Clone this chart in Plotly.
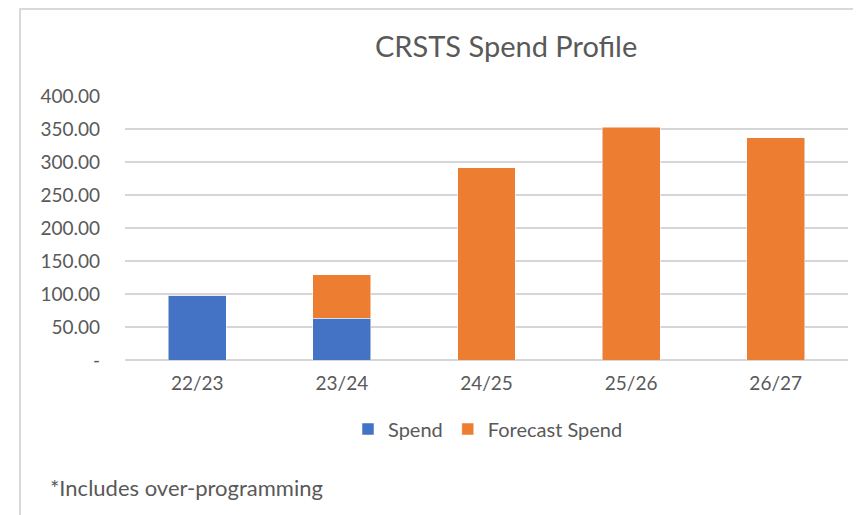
import plotly.graph_objects as go

categories = ["22/23", "23/24", "24/25", "25/26", "26/27"]
spend = [98, 63.5, 0, 0, 0]
forecast_spend = [0, 65.5, 291, 353, 337]
y_tickvals = [0, 50, 100, 150, 200, 250, 300, 350, 400]
y_ticktext = ["-", "50.00", "100.00", "150.00", "200.00", "250.00", "300.00", "350.00", "400.00"]

FONT = "Lato"
TXT = "#595959"

fig = go.Figure()
fig.add_trace(go.Bar(x=categories, y=spend, name="Spend",
                     marker=dict(color="#4472C4", line=dict(color="white", width=0.5))))
fig.add_trace(go.Bar(x=categories, y=forecast_spend, name="Forecast Spend",
                     marker=dict(color="#ED7D31", line=dict(color="white", width=0.5))))

W, H = 861, 515
OFF = 8  # page body offset
# desired on-screen plot area: x 125..848, y 96..360
L = 125 - OFF
R = W - (848 - OFF)
T = 96 - OFF
B = H - (360 - OFF)
pw, ph = W - L - R, H - T - B

def px(x):
    return (x - OFF - L) / pw

def py(y):
    return (H - B - (y - OFF)) / ph

fig.update_layout(
    width=W, height=H,
    margin=dict(l=L, r=R, t=T, b=B),
    barmode="stack", bargap=0.6,
    plot_bgcolor="white", paper_bgcolor="white",
    font=dict(family=FONT, color=TXT, size=19),
    showlegend=True,
    legend=dict(orientation="h", x=px(488), y=py(429), xanchor="center", yanchor="middle",
                font=dict(size=20, color=TXT), traceorder="normal", itemwidth=30),
    xaxis=dict(showgrid=False, showline=False, ticks="", tickfont=dict(size=19, color=TXT),
               ticklabelstandoff=10),
    yaxis=dict(range=[0, 400], tickvals=y_tickvals, ticktext=y_ticktext,
               showgrid=True, gridcolor="#D6D6D6", gridwidth=1.5,
               zeroline=True, zerolinecolor="#D6D6D6", zerolinewidth=1.5,
               showline=False, ticks="", tickfont=dict(size=19, color=TXT),
               ticklabelstandoff=24),
    annotations=[
        dict(text="CRSTS Spend Profile", x=px(506), y=py(46), xref="paper", yref="paper",
             showarrow=False, xanchor="center", yanchor="middle",
             font=dict(size=29, color=TXT, family=FONT)),
        dict(text="*Includes over-programming", x=px(48), y=py(487), xref="paper", yref="paper",
             showarrow=False, xanchor="left", yanchor="middle",
             font=dict(size=22, color=TXT, family=FONT)),
    ],
    shapes=[
        dict(type="line", xref="paper", yref="paper", x0=px(20), x1=px(20), y0=py(9), y1=py(520),
             line=dict(color="#D9D9D9", width=2)),
        dict(type="line", xref="paper", yref="paper", x0=px(19), x1=px(861), y0=py(9), y1=py(9),
             line=dict(color="#D9D9D9", width=2)),
    ],
)

fig.write_html("out.html")
